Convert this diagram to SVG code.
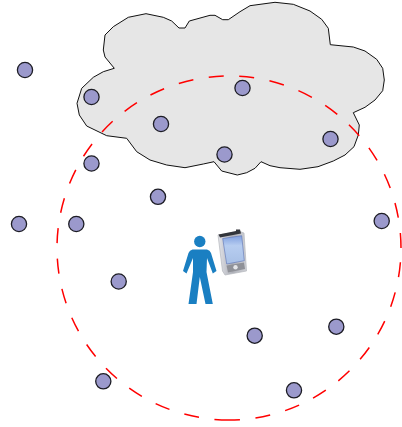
<svg xmlns="http://www.w3.org/2000/svg" width="402" height="427" viewBox="0 0 402 427">
<style>
.n{fill:#9b99cc;stroke:#1c1c24;stroke-width:1.3}
#cloud{fill:#e6e6e6;stroke:#111;stroke-width:1;stroke-linejoin:round}
.r{fill:none;stroke:#f00;stroke-width:1.5;stroke-dasharray:15 15.6}
</style>
<defs>
<linearGradient id="body" x1="0" y1="0" x2="1" y2="0"><stop offset="0" stop-color="#e4e5ea"/><stop offset=".5" stop-color="#aeb0b8"/><stop offset="1" stop-color="#cfd1d6"/></linearGradient>
<linearGradient id="screen" x1="0" y1="0" x2="0" y2="1"><stop offset="0" stop-color="#7f9fe0"/><stop offset=".35" stop-color="#b7cdf0"/><stop offset="1" stop-color="#a8c0e6"/></linearGradient>
<filter id="soft" x="-10%" y="-10%" width="120%" height="120%"><feGaussianBlur stdDeviation=".35"/></filter>
</defs>
<path id="cloud" d="M114.3 68.3L105 57L103.3 50L105 35L113.3 26.7L128.3 17.3L146 13.7L163.3 17.3L171.7 21L179 28L185 28L189.3 21L210 15.3L215 15.3L222.7 19.7L228.3 19.7L240 11.7L250 5.7L275 2.3L293.3 4.3L310 11L321.7 19.3L328.3 28.3L330.3 44.7L353.3 47L365 51L376.7 59.3L382.7 68.3L384.3 80L382.7 90.7L375 100L365 107.3L353.3 112.7L359.3 125L358.3 135L354 146.7L345 155L333.3 161L318 166.7L300 169.3L280 167.7L270 165.7L261 161.7L255 168.3L246.7 172.7L237.3 175L221.7 171L214 161.7L203.3 164L185 167.7L166.7 165L150 160L136.7 151.7L126.7 138.3L106.7 135.7L86.7 126L79.3 115L77 103.3L81.7 88.3L93.3 77.3L103.3 71.7Z"/>
<g id="connectors">
<path class="r" d="M401 248A172 172 0 1 0 229 420"/>
<path class="r" stroke-dashoffset="4" d="M229 420A172 172 0 0 0 401 248"/>
</g>
<g id="n1"><circle class="n" cx="25" cy="70" r="7.6"/></g>
<g id="n2"><circle class="n" cx="91.500" cy="97" r="7.6"/></g>
<g id="n3"><circle class="n" cx="242.500" cy="88" r="7.6"/></g>
<g id="n4"><circle class="n" cx="161" cy="124" r="7.6"/></g>
<g id="n5"><circle class="n" cx="330.500" cy="139" r="7.6"/></g>
<g id="n6"><circle class="n" cx="224.500" cy="154.500" r="7.6"/></g>
<g id="n7"><circle class="n" cx="91.500" cy="163.500" r="7.6"/></g>
<g id="n8"><circle class="n" cx="158" cy="196.800" r="7.6"/></g>
<g id="n9"><circle class="n" cx="19" cy="224" r="7.6"/></g>
<g id="n10"><circle class="n" cx="76.300" cy="224" r="7.6"/></g>
<g id="n11"><circle class="n" cx="381.700" cy="221" r="7.6"/></g>
<g id="n12"><circle class="n" cx="118.700" cy="281.500" r="7.6"/></g>
<g id="n13"><circle class="n" cx="254.700" cy="335.700" r="7.6"/></g>
<g id="n14"><circle class="n" cx="336.300" cy="326.700" r="7.6"/></g>
<g id="n15"><circle class="n" cx="103.300" cy="381.300" r="7.6"/></g>
<g id="n16"><circle class="n" cx="294" cy="390.300" r="7.6"/></g>
<g id="person">
<circle cx="199.800" cy="241.500" r="5.700" fill="#1a7fc2"/>
<path fill="#1a7fc2" d="M192.500 249.500L207 249.500Q210 250 211 253L216.500 271L212.800 273.500L207 258L206.500 272L212.800 304L205.500 304L199.800 277L196.500 304L188.500 304L193 272L193 258L186.500 273.500L183 271L188.500 253Q189.500 250 192.500 249.500Z"/>
</g>
<g id="pda" filter="url(#soft)">
<path d="M218 235L240 231.500L244 233L246.500 271L225 275L222.500 271Z" fill="url(#body)" stroke="#b5b7bd" stroke-width=".7"/>
<path d="M218.500 234.500L236 231L236 229.500L240 229.500L241 233.500L220 237.500Z" fill="#33343a"/>
<path d="M222.700 238.500L241.700 235.700L244.300 260.700L226.700 264Z" fill="url(#screen)" stroke="#5a72b5" stroke-width=".6"/>
<path d="M226.500 265.500L244 262.500L245 269L228 272.500Z" fill="#8f9198"/>
<circle cx="235.500" cy="267.300" r="2.200" fill="#e4e5e8"/>
</g>
</svg>
